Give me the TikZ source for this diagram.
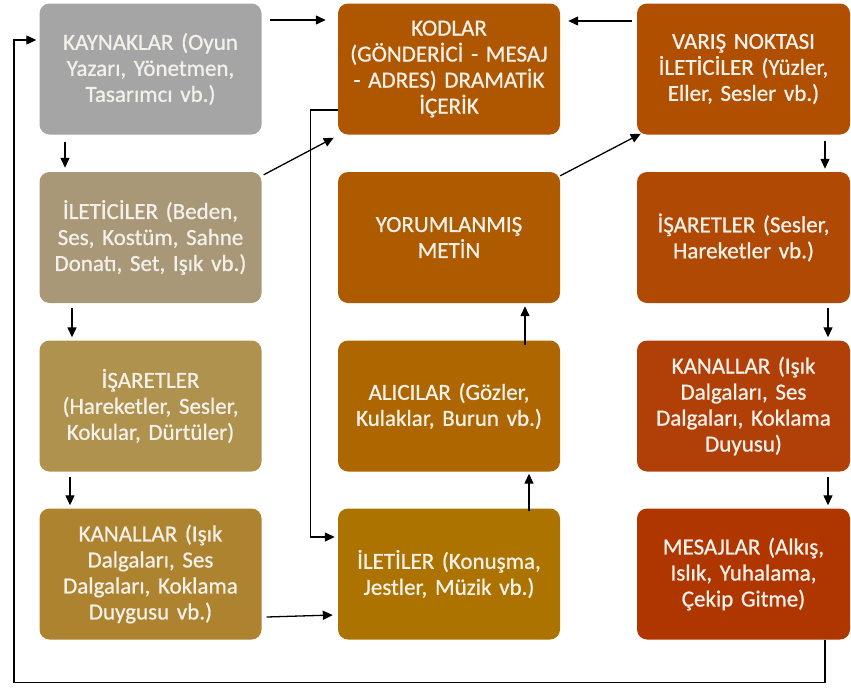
\documentclass[tikz,border=0pt]{standalone}
\usepackage{fontspec}
\setmainfont[FakeBold=0.8]{Carlito}
\usetikzlibrary{arrows.meta,calc}
\definecolor{cK}{HTML}{A5A5A5}
\definecolor{cIl}{HTML}{A89878}
\definecolor{cIs}{HTML}{B0924F}
\definecolor{cKan}{HTML}{AD832F}
\definecolor{cKod}{HTML}{AF5600}
\definecolor{cYor}{HTML}{AE5B00}
\definecolor{cAl}{HTML}{AD6600}
\definecolor{cIlt}{HTML}{AD7300}
\definecolor{cVar}{HTML}{B04F00}
\definecolor{cIsR}{HTML}{B04904}
\definecolor{cKanR}{HTML}{B04007}
\definecolor{cMes}{HTML}{B03600}
\definecolor{txt}{HTML}{F4F0EA}
\begin{document}
\begin{tikzpicture}[x=1pt,y=-1pt,
  box/.style={rectangle,rounded corners=10pt,minimum width=222pt,minimum height=131pt,
    inner sep=0pt,text width=222pt,align=center,text=txt,
    font=\fontsize{23}{26}\selectfont},
  narrow/.style={minimum width=213pt,text width=213pt},
  arr/.style={line width=1.3pt,-{Triangle[length=10pt,width=9pt]}},
  ln/.style={line width=1.3pt}]
\useasboundingbox (0,0) rectangle (851,688);
% column 1
\node[box,fill=cK] (k) at (150.5,69) {KAYNAKLAR (Oyun\\Yazarı, Yönetmen,\\Tasarımcı vb.)};
\node[box,fill=cIl] (il) at (150.5,237.5) {İLETİCİLER (Beden,\\Ses, Kostüm, Sahne\\Donatı, Set, Işık vb.)};
\node[box,fill=cIs] (is) at (150.5,406) {İŞARETLER\\(Hareketler, Sesler,\\Kokular, Dürtüler)};
\node[box,fill=cKan] (kan) at (150.5,574) {KANALLAR (Işık\\Dalgaları, Ses\\Dalgaları, Koklama\\Duygusu vb.)};
% column 2
\node[box,fill=cKod] (kod) at (449,69) {KODLAR\\(GÖNDERİCİ - MESAJ\\- ADRES) DRAMATİK\\İÇERİK};
\node[box,fill=cYor] (yor) at (449,237.5) {YORUMLANMIŞ\\METİN};
\node[box,fill=cAl] (al) at (449,406) {ALICILAR (Gözler,\\Kulaklar, Burun vb.)};
\node[box,fill=cIlt] (ilt) at (449,574) {İLETİLER (Konuşma,\\Jestler, Müzik vb.)};
% column 3
\node[box,narrow,fill=cVar] (var) at (743.5,69) {VARIŞ NOKTASI\\İLETİCİLER (Yüzler,\\Eller, Sesler vb.)};
\node[box,narrow,fill=cIsR] (isr) at (743.5,237.5) {İŞARETLER (Sesler,\\Hareketler vb.)};
\node[box,narrow,fill=cKanR] (kanr) at (743.5,406) {KANALLAR (Işık\\Dalgaları, Ses\\Dalgaları, Koklama\\Duyusu)};
\node[box,narrow,fill=cMes] (mes) at (743.5,574) {MESAJLAR (Alkış,\\Islık, Yuhalama,\\Çekip Gitme)};
% connectors
\draw[arr] ($(k.east)+(8,-49)$) -- ($(kod.west)+(-12,-49)$);
\draw[arr] ($(var.west)+(-5,-48)$) -- ($(kod.east)+(8,-48)$);
\draw[arr] ($(k.south)+(-85.5,7)$) -- ($(il.north)+(-85.5,-4)$);
\draw[arr] ($(il.north east)+(2,3)$) -- ($(kod.south west)+(-4,3)$);
\draw[arr] ($(kod.west)+(0,41)$) -- ++(-27,0) |- ($(ilt.west)+(-3,-37)$);
\draw[arr] ($(yor.north east)+(0,4)$) -- ($(var.south west)+(4,-1)$);
\draw[arr] ($(al.north)+(76,5)$) -- ($(yor.south)+(76,3)$);
\draw[arr] ($(ilt.north)+(80,3)$) -- ($(al.south)+(80,2)$);
\draw[arr] ($(il.south)+(-78.5,5)$) -- ($(is.north)+(-78.5,-3)$);
\draw[arr] ($(is.south)+(-80.5,5)$) -- ($(kan.north)+(-80.5,-3)$);
\draw[arr] ($(kan.east)+(5,43)$) -- ($(ilt.west)+(-5,41)$);
\draw[arr] ($(var.south)+(81.5,6)$) -- ($(isr.north)+(81.5,-3)$);
\draw[arr] ($(isr.south)+(84.5,5)$) -- ($(kanr.north)+(84.5,-3)$);
\draw[arr] ($(kanr.south)+(84.5,5)$) -- ($(mes.north)+(84.5,-3)$);
\draw[arr] ($(mes.south)+(81.5,0)$) -- ++(0,43) -- ++(-811,0) |- ($(k.west)+(-3,-29)$);
\end{tikzpicture}
\end{document}
